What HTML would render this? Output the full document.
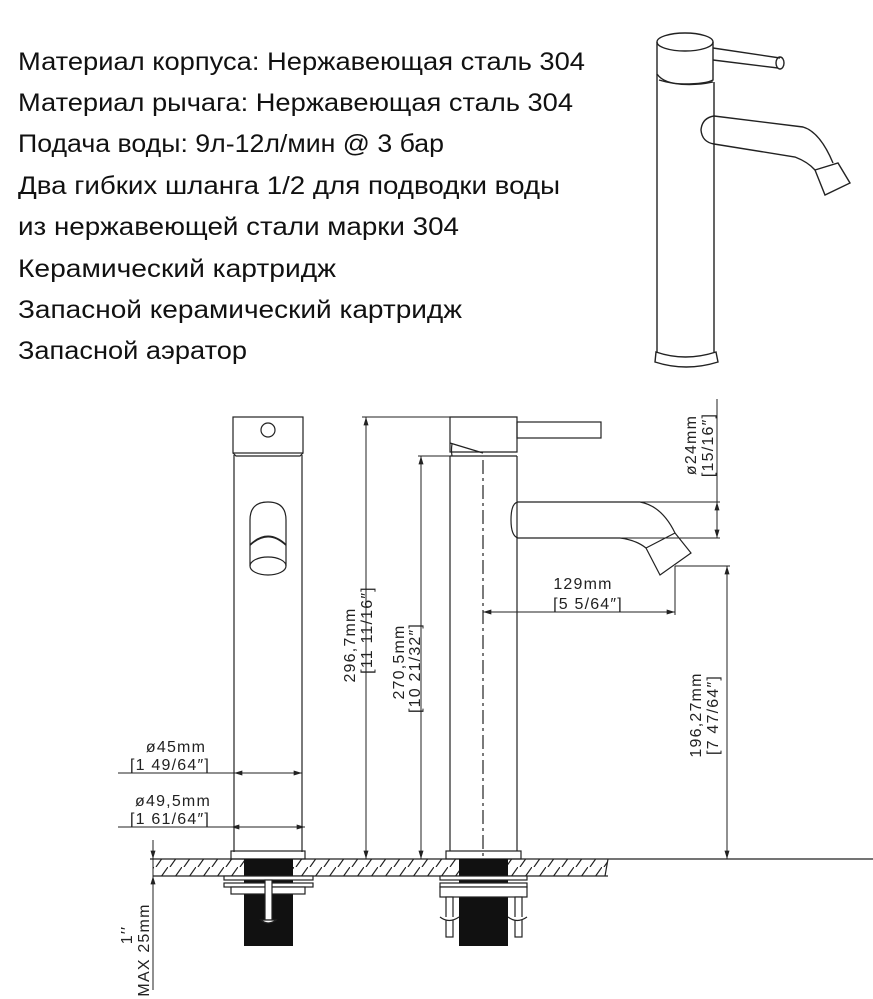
<!DOCTYPE html>
<html><head><meta charset="utf-8"><style>
html,body{margin:0;padding:0;background:#fff;}
svg{display:block;}
.t{font-family:"Liberation Sans","Noto Sans CJK SC",sans-serif;font-size:25px;fill:#111;}
.d{font-family:"Liberation Sans",sans-serif;font-size:16px;fill:#222;letter-spacing:1.2px;}
</style></head><body>
<svg width="873" height="999" viewBox="0 0 873 999" xmlns="http://www.w3.org/2000/svg">
<defs>
<marker id="a" viewBox="0 0 10 6" refX="10" refY="3" markerWidth="9" markerHeight="5" orient="auto-start-reverse" markerUnits="userSpaceOnUse"><path d="M0,0L10,3L0,6z" fill="#222"/></marker>
<pattern id="h" width="14" height="17" patternUnits="userSpaceOnUse"><line x1="2" y1="17" x2="14" y2="0" stroke="#222" stroke-width="1.2"/></pattern>
</defs>
<g class="t">
<text x="18" y="70" textLength="567" lengthAdjust="spacingAndGlyphs">Материал корпуса: Нержавеющая сталь 304</text>
<text x="18" y="111" textLength="555" lengthAdjust="spacingAndGlyphs">Материал рычага: Нержавеющая сталь 304</text>
<text x="18" y="152" textLength="426" lengthAdjust="spacingAndGlyphs">Подача воды: 9л-12л/мин @ 3 бар</text>
<text x="18" y="194" textLength="542" lengthAdjust="spacingAndGlyphs">Два гибких шланга 1/2 для подводки воды</text>
<text x="18" y="235" textLength="441" lengthAdjust="spacingAndGlyphs">из нержавеющей стали марки 304</text>
<text x="18" y="277" textLength="318" lengthAdjust="spacingAndGlyphs">Керамический картридж</text>
<text x="18" y="318" textLength="444" lengthAdjust="spacingAndGlyphs">Запасной керамический картридж</text>
<text x="18" y="359" textLength="229" lengthAdjust="spacingAndGlyphs">Запасной аэратор</text>
</g>
<!-- top-right faucet -->
<g fill="none" stroke="#222" stroke-width="1.4">
<ellipse cx="685" cy="42" rx="28" ry="9"/>
<path d="M657,42 V74 Q664,84 684,84 Q706,84 713,80 V42"/>
<path d="M713,48 L780,58 M713,60 L778,68"/>
<ellipse cx="780" cy="63" rx="4" ry="6"/>
<path d="M659,80 Q685,88 713,82 M657,74 V352 M714,82 V352"/>
<path d="M656,352 Q685,362 716,352 L718,362 Q686,372 655,362 Z"/>
<path d="M714,116 Q702,118 701,130 Q702,142 714,144"/>
<path d="M714,116 L803,127 Q820,132 833,163 M714,144 L795,157 Q808,162 815,170"/>
<path d="M815,170 L838,163 L850,183 L825,195 Z"/>
</g>
<!-- technical drawing: left view -->
<g fill="none" stroke="#222" stroke-width="1.2">
<rect x="233" y="417" width="70" height="36"/>
<circle cx="268" cy="430" r="7"/>
<path d="M234,455 V852 M302,455 V852 M233,453 L236,456 H300 L303,453"/>
<path d="M250,566 V520 Q250,502 268,502 Q286,502 286,520 V566"/>
<path d="M250,545 Q268,528 286,545" stroke-width="1.8"/>
<ellipse cx="268" cy="566" rx="18" ry="9"/>
<rect x="231" y="851" width="74" height="8"/>
<!-- right view -->
<path d="M450,417 H517 V452 H450 Z"/>
<path d="M450,443 L483,453"/>
<path d="M452,444 Q451,450 452,456"/>
<rect x="517" y="422" width="84" height="16"/>
<path d="M450,456 H517 M450,456 V851 M517,456 V851"/>
<path d="M483,460 V860" stroke-dasharray="14,4,3,4"/>
<path d="M517,502 H518 Q511,503 511,520 Q511,536 518,538 H620 Q636,540 646,548 M518,502 H640 Q662,506 675,533"/>
<path d="M646,548 L675,533 L691,553 L660,575 Z"/>
<rect x="446" y="851" width="75" height="8"/>
</g>
<!-- countertop -->
<rect x="153" y="859" width="455" height="17" fill="url(#h)" stroke="none"/>
<g stroke="#222" stroke-width="1.2" fill="none">
<line x1="150" y1="859" x2="873" y2="859"/>
<line x1="153" y1="876" x2="608" y2="876"/>
<line x1="608" y1="859" x2="605" y2="876"/>
</g>
<!-- shafts -->
<rect x="244" y="859" width="49" height="87" fill="#111"/>
<rect x="459" y="859" width="49" height="87" fill="#111"/>
<g fill="#fff" stroke="#222" stroke-width="1.2">
<rect x="224" y="876" width="89" height="4"/>
<rect x="224" y="883" width="89" height="4"/>
<rect x="231" y="887" width="74" height="7"/>
<rect x="265" y="880" width="7" height="40"/>
<path d="M261,920 Q268,926 276,920 Z"/>
<rect x="440" y="876" width="87" height="4"/>
<rect x="440" y="883" width="87" height="4"/>
<rect x="440" y="887" width="87" height="10"/>
<rect x="446" y="897" width="7" height="40"/>
<rect x="515" y="897" width="7" height="40"/>
<path d="M440,917 Q449,924 459,917 M508,917 Q517,924 527,917"/>
</g>
<!-- dimension lines -->
<g stroke="#222" stroke-width="1" fill="none">
<line x1="362" y1="417" x2="450" y2="417"/>
<line x1="366" y1="417" x2="366" y2="859" marker-start="url(#a)" marker-end="url(#a)"/>
<line x1="418" y1="456" x2="450" y2="456"/>
<line x1="421" y1="456" x2="421" y2="859" marker-start="url(#a)" marker-end="url(#a)"/>
<line x1="517" y1="502" x2="720" y2="502"/>
<line x1="517" y1="538" x2="720" y2="538"/>
<line x1="717" y1="399" x2="717" y2="538"/>
<line x1="717" y1="515" x2="717" y2="502" marker-end="url(#a)"/>
<line x1="717" y1="525" x2="717" y2="538" marker-end="url(#a)"/>
<line x1="675" y1="566" x2="730" y2="566"/>
<line x1="675" y1="566" x2="675" y2="615"/>
<line x1="483" y1="612" x2="675" y2="612" marker-start="url(#a)" marker-end="url(#a)"/>
<line x1="727" y1="566" x2="727" y2="859" marker-start="url(#a)" marker-end="url(#a)"/>
<line x1="118" y1="773" x2="234" y2="773"/>
<line x1="234" y1="773" x2="302" y2="773" marker-start="url(#a)" marker-end="url(#a)"/>
<line x1="118" y1="827" x2="231" y2="827"/>
<line x1="231" y1="827" x2="305" y2="827" marker-start="url(#a)" marker-end="url(#a)"/>
<line x1="153" y1="840" x2="153" y2="990"/>
<line x1="153" y1="845" x2="153" y2="859" marker-end="url(#a)"/>
<line x1="153" y1="890" x2="153" y2="876" marker-end="url(#a)"/>
</g>
<g class="d">
<text transform="translate(355,645) rotate(-90)" text-anchor="middle">296,7mm</text>
<text transform="translate(372,630) rotate(-90)" text-anchor="middle">[11 11/16″]</text>
<text transform="translate(404,662) rotate(-90)" text-anchor="middle">270,5mm</text>
<text transform="translate(420,668) rotate(-90)" text-anchor="middle">[10 21/32″]</text>
<text transform="translate(696,445) rotate(-90)" text-anchor="middle">ø24mm</text>
<text transform="translate(713,445) rotate(-90)" text-anchor="middle">[15/16″]</text>
<text transform="translate(701,715) rotate(-90)" text-anchor="middle">196,27mm</text>
<text transform="translate(718,715) rotate(-90)" text-anchor="middle">[7 47/64″]</text>
<text x="583" y="589" text-anchor="middle">129mm</text>
<text x="588" y="609" text-anchor="middle">[5 5/64″]</text>
<text x="176" y="752" text-anchor="middle">ø45mm</text>
<text x="170" y="770" text-anchor="middle">[1 49/64″]</text>
<text x="173" y="806" text-anchor="middle">ø49,5mm</text>
<text x="170" y="824" text-anchor="middle">[1 61/64″]</text>
<text transform="translate(132,935) rotate(-90)" text-anchor="middle">1′′</text>
<text transform="translate(149,950) rotate(-90)" text-anchor="middle">MAX 25mm</text>
</g>
</svg>
</body></html>
